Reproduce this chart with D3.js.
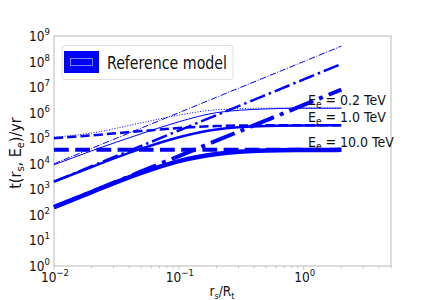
<!DOCTYPE html>
<html><head><meta charset="utf-8">
<script src="https://cdn.jsdelivr.net/npm/d3@7"></script>
<style>body{margin:0;background:#fff}svg{display:block}text{font-family:"DejaVu Sans Condensed","DejaVu Sans",sans-serif}</style>
</head><body><svg id="c" width="436" height="300"></svg>
<script>
// ---- data ----
const rs = [0.01, 0.02, 0.05, 0.1, 0.2, 0.5, 1, 2];
const energies = ["0.2", "1.0", "10.0"];
// diffusion-like (dash-dot)
const tDiff02 = [1e4, 4e4, 2.5e5, 1e6, 4e6, 2.5e7, 1e8, 4e8];
const tDiff1  = [2e3, 8e3, 5e4, 2e5, 8e5, 5e6, 2e7, 8e7];
const tDiff10 = [2e2, 8e2, 5e3, 2e4, 8e4, 5e5, 2e6, 8e6];
// cooling-like (dashed / dotted)
const tCool02 = [1.1e5, 1.6e5, 4e5, 8e5, 1.3e6, 1.5e6, 1.5e6, 1.5e6];
const tCool1  = [1e5, 1.3e5, 1.9e5, 2.5e5, 3e5, 3.2e5, 3.2e5, 3.2e5];
const tCool10 = [3.5e4, 3.5e4, 3.5e4, 3.5e4, 3.5e4, 3.5e4, 3.5e4, 3.5e4];
// total (solid)
const tTot02 = [9.1e3, 3.2e4, 1.5e5, 4.4e5, 1e6, 1.4e6, 1.5e6, 1.5e6];
const tTot1  = [2e3, 7.5e3, 3.9e4, 1.1e5, 2.2e5, 3e5, 3.15e5, 3.2e5];
const tTot10 = [2e2, 7.8e2, 4.4e3, 1.27e4, 2.4e4, 3.3e4, 3.45e4, 3.5e4];
const yTicks = [1, 10, 100, 1e3, 1e4, 1e5, 1e6, 1e7, 1e8, 1e9];
const xTicks = [0.01, 0.1, 1];

const svg = d3.select("#c");
const L = 54, R = 391, T = 36, B = 266;
const x = d3.scaleLog().domain([0.01, 5]).range([L, R]);
const y = d3.scaleLog().domain([1, 1e9]).range([B, T]);
const blue = "#0000ff";

// frame
svg.append("rect").attr("x", L).attr("y", T).attr("width", R - L).attr("height", B - T)
  .attr("fill", "none").attr("stroke", "#b8b8b8").attr("stroke-width", 1);

// minor ticks
const minorX = [];
for (let d = -2; d <= 0; d++) for (let k = 2; k <= 9; k++) { const v = k * Math.pow(10, d); if (v <= 5) minorX.push(v); }
svg.selectAll(".mx").data(minorX).enter().append("line")
  .attr("x1", d => x(d)).attr("x2", d => x(d)).attr("y1", B).attr("y2", B + 2.5)
  .attr("stroke", "#b8b8b8").attr("stroke-width", 0.8);
svg.selectAll(".Mx").data(xTicks).enter().append("line")
  .attr("x1", d => x(d)).attr("x2", d => x(d)).attr("y1", B).attr("y2", B + 4)
  .attr("stroke", "#b8b8b8").attr("stroke-width", 0.8);

function sup(sel, base, exp) {
  sel.append("tspan").text(base);
  sel.append("tspan").attr("dy", -6).attr("font-size", 9.5).text(exp);
}
// y tick labels
yTicks.forEach(v => {
  const e = Math.round(Math.log10(v));
  const t = svg.append("text").attr("x", 50).attr("y", y(v) + 5).attr("text-anchor", "end")
    .attr("font-size", 13.5).attr("fill", "#111");
  sup(t, "10", String(e));
});
// x tick labels
xTicks.forEach(v => {
  const e = Math.round(Math.log10(v));
  const t = svg.append("text").attr("x", x(v) + 1).attr("y", 282).attr("text-anchor", "middle")
    .attr("font-size", 13.5).attr("fill", "#111");
  sup(t, "10", e < 0 ? "\u2212" + (-e) : String(e));
});

// axis labels
const xl = svg.append("text").attr("x", 222).attr("y", 296).attr("text-anchor", "middle")
  .attr("font-size", 13.5).attr("fill", "#111");
xl.append("tspan").text("r");
xl.append("tspan").attr("dy", 3).attr("font-size", 9).text("s");
xl.append("tspan").attr("dy", -3).text("/R");
xl.append("tspan").attr("dy", 3).attr("font-size", 9).text("t");

const yl = svg.append("text").attr("transform", "translate(21,153) rotate(-90)").attr("text-anchor", "middle")
  .attr("font-size", 16).attr("fill", "#111");
yl.append("tspan").text("t(r");
yl.append("tspan").attr("dy", 3).attr("font-size", 11).text("s");
yl.append("tspan").attr("dy", -3).text(", E");
yl.append("tspan").attr("dy", 3).attr("font-size", 11).text("e");
yl.append("tspan").attr("dy", -3).text(")/yr");

// curves
const line = d3.line().x(d => x(d[0])).y(d => y(d[1])).curve(d3.curveMonotoneX);
const curves = [
  {v: tDiff02, w: 1, dash: "dashdot"}, {v: tDiff1, w: 2.5, dash: "dashdot"}, {v: tDiff10, w: 4, dash: "dashdot"},
  {v: tCool02, w: 1, dash: "dotted"}, {v: tCool1, w: 2.5, dash: "dashed"}, {v: tCool10, w: 4, dash: "dashed"},
  {v: tTot02, w: 1, dash: "solid"}, {v: tTot1, w: 2.5, dash: "solid"}, {v: tTot10, w: 4.5, dash: "solid"}
];
function dasharray(style, w) {
  if (style === "dashdot") return [6.4 * w, 1.6 * w, 1 * w, 1.6 * w].join(",");
  if (style === "dashed") return [3.7 * w, 1.6 * w].join(",");
  if (style === "dotted") return [1 * w, 1.65 * w].join(",");
  return null;
}
const g = svg.append("g");
curves.forEach(c => {
  g.append("path").datum(rs.map((r, i) => [r, c.v[i]])).attr("d", line)
    .attr("fill", "none").attr("stroke", blue).attr("stroke-width", c.w)
    .attr("stroke-dasharray", dasharray(c.dash, c.w));
});

// energy labels
const labY = [tTot02[7], tTot1[7], tTot10[7]];
energies.forEach((e, i) => {
  const t = svg.append("text").attr("x", 308).attr("y", y(labY[i]) - 3).attr("font-size", 14).attr("fill", "#111");
  t.append("tspan").text("E");
  t.append("tspan").attr("dy", 3).attr("font-size", 10).text("e");
  t.append("tspan").attr("dy", -3).text(" = " + e + " TeV");
});

// legend
svg.append("rect").attr("x", 62).attr("y", 45.5).attr("width", 171).attr("height", 34).attr("rx", 3)
  .attr("fill", "#fff").attr("stroke", "#e0e0e0").attr("stroke-width", 1);
svg.append("rect").attr("x", 64).attr("y", 51).attr("width", 35).attr("height", 22).attr("fill", blue);
svg.append("rect").attr("x", 70.5).attr("y", 58.5).attr("width", 22).attr("height", 7)
  .attr("fill", "none").attr("stroke", "#8080ff").attr("stroke-width", 1);
svg.append("text").attr("x", 107).attr("y", 68.5).attr("font-size", 18).attr("fill", "#111")
  .attr("textLength", 120).attr("lengthAdjust", "spacingAndGlyphs").text("Reference model");
</script></body></html>
